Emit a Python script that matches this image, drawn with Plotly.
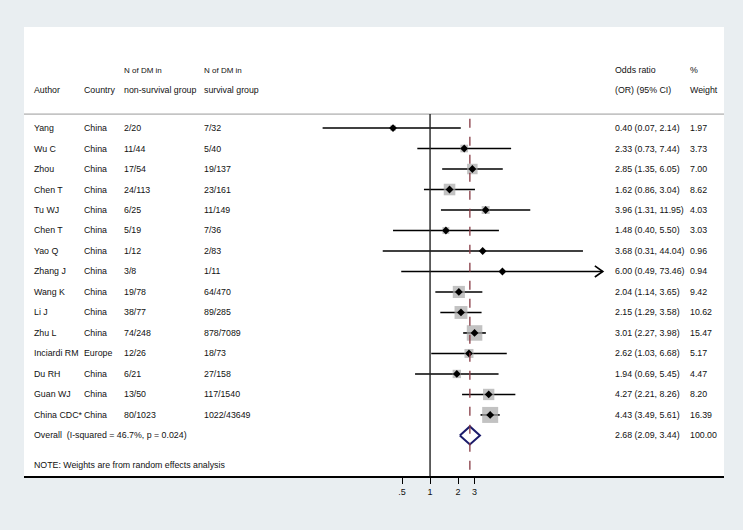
import math
import plotly.graph_objects as go

# ---------------- data ----------------
authors = ["Yang", "Wu C", "Zhou", "Chen T", "Tu WJ", "Chen T", "Yao Q", "Zhang J",
           "Wang K", "Li J", "Zhu L", "Inciardi RM", "Du RH", "Guan WJ", "China CDC*"]
countries = ["China", "China", "China", "China", "China", "China", "China", "China",
             "China", "China", "China", "Europe", "China", "China", "China"]
non_survival = ["2/20", "11/44", "17/54", "24/113", "6/25", "5/19", "1/12", "3/8",
                "19/78", "38/77", "74/248", "12/26", "6/21", "13/50", "80/1023"]
survival = ["7/32", "5/40", "19/137", "23/161", "11/149", "7/36", "2/83", "1/11",
            "64/470", "89/285", "878/7089", "18/73", "27/158", "117/1540", "1022/43649"]
odds_ratio = [0.40, 2.33, 2.85, 1.62, 3.96, 1.48, 3.68, 6.00, 2.04, 2.15, 3.01, 2.62, 1.94, 4.27, 4.43]
ci_low = [0.07, 0.73, 1.35, 0.86, 1.31, 0.40, 0.31, 0.49, 1.14, 1.29, 2.27, 1.03, 0.69, 2.21, 3.49]
ci_high = [2.14, 7.44, 6.05, 3.04, 11.95, 5.50, 44.04, 73.46, 3.65, 3.58, 3.98, 6.68, 5.45, 8.26, 5.61]
weights = [1.97, 3.73, 7.00, 8.62, 4.03, 3.03, 0.96, 0.94, 9.42, 10.62, 15.47, 5.17, 4.47, 8.20, 16.39]

overall_or = 2.68
overall_low = 2.09
overall_high = 3.44
overall_weight = 100.00
overall_label = "Overall  (I-squared = 46.7%, p = 0.024)"
note_text = "NOTE: Weights are from random effects analysis"

tick_vals = [0.5, 1, 2, 3]
tick_text = [".5", "1", "2", "3"]

# ---------------- style ----------------
W, H = 743, 530
M_L, M_R, M_T, M_B = 24, 19, 27, 54
X_RANGE = [-4.365, 3.160]          # log10 range of the x axis
Y_RANGE = [16.98, -4.93]           # row units (reversed)
FOREST_MAX = 72                    # upper display limit of the forest region (arrow beyond)
PX_PER_LN = 40.4
FONT = "Liberation Sans, Arial, Helvetica, sans-serif"
BG = "#e9eef1"
TXT = "#111111"
n = len(authors)
rows = list(range(n))
overall_row = n
note_row = 16.44
hdr1_row = -2.83
hdr2_row = -1.85
sep_row = -0.68

def px(xpix):
    return (xpix - M_L) / (W - M_L - M_R)

col_author, col_country, col_ns, col_s, col_or, col_w = px(32), px(82), px(122), px(202), px(613), px(688)

fig = go.Figure()

# CI lines
lx, ly = [], []
ax_, ay_ = [], []
k = math.exp(8 / PX_PER_LN)
for i in rows:
    hi = min(ci_high[i], FOREST_MAX)
    lx += [ci_low[i], hi, None]
    ly += [i, i, None]
    if ci_high[i] > FOREST_MAX:
        ax_ += [hi / k, hi, hi / k, None]
        ay_ += [i - 0.27, i, i + 0.27, None]
fig.add_trace(go.Scatter(x=lx, y=ly, mode="lines", line=dict(color="black", width=1.6),
                         hoverinfo="skip", showlegend=False))
if ax_:
    fig.add_trace(go.Scatter(x=ax_, y=ay_, mode="lines", line=dict(color="black", width=1.6),
                             hoverinfo="skip", showlegend=False))

# weight boxes
sizes = [16 * math.sqrt(w / max(weights)) for w in weights]
fig.add_trace(go.Scatter(x=odds_ratio, y=rows, mode="markers",
                         marker=dict(symbol="square", size=sizes, color="#a8a8a8", line=dict(width=0)),
                         hoverinfo="skip", showlegend=False))
# point estimates
fig.add_trace(go.Scatter(x=odds_ratio, y=rows, mode="markers",
                         marker=dict(symbol="diamond", size=6, color="black"),
                         hoverinfo="skip", showlegend=False))

# overall diamond
dh = 0.44
fig.add_trace(go.Scatter(x=[overall_low, overall_or, overall_high, overall_or, overall_low],
                         y=[overall_row, overall_row - dh, overall_row, overall_row + dh, overall_row],
                         mode="lines", fill="toself", fillcolor="white",
                         line=dict(color="#1b1b6b", width=2), hoverinfo="skip", showlegend=False))

shapes = [
    dict(type="line", xref="paper", yref="y", x0=0, x1=1, y0=sep_row, y1=sep_row,
         line=dict(color="#9a9a9a", width=1)),
    dict(type="line", xref="x", yref="y", x0=1, x1=1, y0=sep_row, y1=Y_RANGE[0],
         line=dict(color="#222222", width=1.4)),
    dict(type="line", xref="x", yref="y", x0=overall_or, x1=overall_or,
         y0=-0.45, y1=Y_RANGE[0], line=dict(color="#873a44", width=1.3, dash="dash")),
]

ann = []
def t(x, y, s, size=8.8):
    ann.append(dict(x=x, y=y, xref="paper", yref="y", text=s, showarrow=False,
                    xanchor="left", yanchor="middle", font=dict(family=FONT, size=size, color=TXT)))

# header
t(col_ns, hdr1_row, "N of DM in", 8)
t(col_s, hdr1_row, "N of DM in", 8)
t(col_or, hdr1_row, "Odds ratio")
t(col_w, hdr1_row, "%")
t(col_author, hdr2_row, "Author")
t(col_country, hdr2_row, "Country")
t(col_ns, hdr2_row, "non-survival group")
t(col_s, hdr2_row, "survival group")
t(col_or, hdr2_row, "(OR) (95% CI)")
t(col_w, hdr2_row, "Weight")

for i in rows:
    t(col_author, i, authors[i])
    t(col_country, i, countries[i])
    t(col_ns, i, non_survival[i])
    t(col_s, i, survival[i])
    t(col_or, i, f"{odds_ratio[i]:.2f} ({ci_low[i]:.2f}, {ci_high[i]:.2f})")
    t(col_w, i, f"{weights[i]:.2f}")

t(col_author, overall_row, overall_label)
t(col_or, overall_row, f"{overall_or:.2f} ({overall_low:.2f}, {overall_high:.2f})")
t(col_w, overall_row, f"{overall_weight:.2f}")
t(col_author, note_row, note_text)

fig.update_layout(
    width=W, height=H,
    margin=dict(l=M_L, r=M_R, t=M_T, b=M_B, pad=0),
    paper_bgcolor=BG, plot_bgcolor="white",
    shapes=shapes, annotations=ann, showlegend=False,
    xaxis=dict(type="log", range=X_RANGE, tickvals=tick_vals, ticktext=tick_text,
               showgrid=False, zeroline=False, showline=True, linecolor="black", linewidth=1.5,
               ticks="outside", ticklen=6, tickwidth=1.2, tickcolor="black",
               tickfont=dict(family=FONT, size=9, color=TXT), fixedrange=True),
    yaxis=dict(range=Y_RANGE, showgrid=False, zeroline=False, showline=False,
               showticklabels=False, ticks="", fixedrange=True),
)

fig.write_html("out.html", config={"displayModeBar": False},
               post_script="document.body.style.margin='0';document.body.style.background='%s';" % BG)
